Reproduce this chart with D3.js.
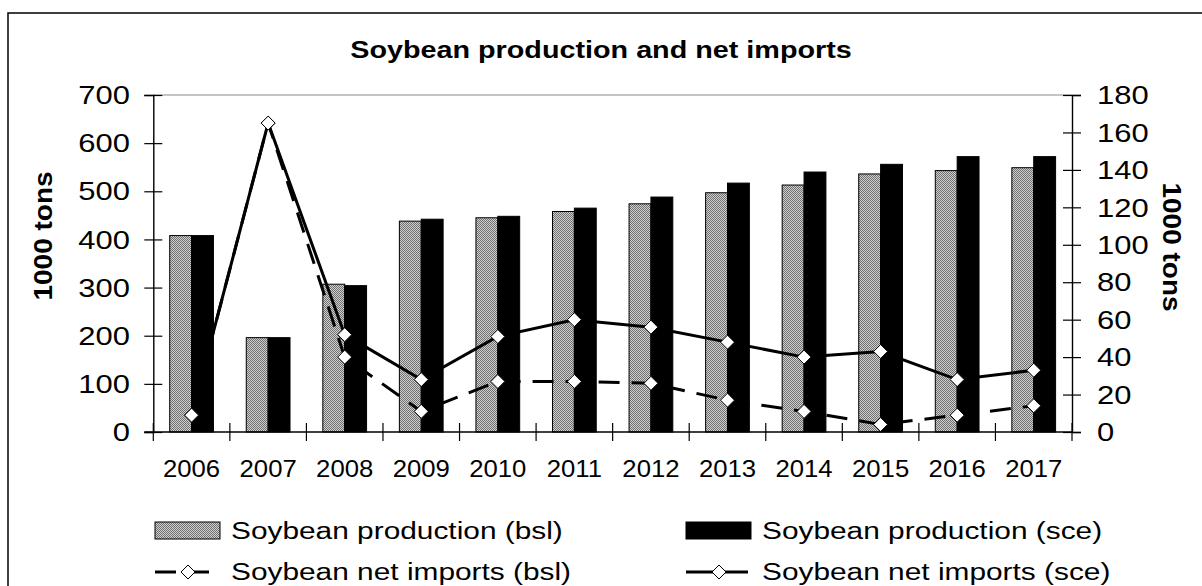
<!DOCTYPE html>
<html><head><meta charset="utf-8">
<script src="https://cdn.jsdelivr.net/npm/d3@7"></script>
<style>body{margin:0;background:#fff}svg{display:block}</style>
</head><body>
<svg id="c" width="1202" height="586"></svg>
<script>
const years = ["2006","2007","2008","2009","2010","2011","2012","2013","2014","2015","2016","2017"];
const prodBsl = [408,196,307,438,445,458,474,497,513,536,543,549];
const prodSce = [408,196,304,442,448,465,488,517,540,556,572,572];
const importsBsl = [9,165,40,11,27,27,26,17,11,4,9,14];
const importsSce = [9,165,52,28,51,60,56,48,40,43,28,33];
const leftTicks = [0,100,200,300,400,500,600,700];
const rightTicks = [0,20,40,60,80,100,120,140,160,180];
const title = "Soybean production and net imports";
const yTitle = "1000 tons";
const legendLabels = ["Soybean production (bsl)","Soybean production (sce)","Soybean net imports (bsl)","Soybean net imports (sce)"];

const svg = d3.select("#c");
const FONT = "'Liberation Sans', Arial, sans-serif";
const L = 153.3, R = 1072, T = 95, B = 432;

function stretch(sel, factor){
  sel.each(function(){
    const n = this.getComputedTextLength();
    d3.select(this).attr("textLength", n*factor).attr("lengthAdjust","spacingAndGlyphs");
  });
}

// pattern
const defs = svg.append("defs");
const pat = defs.append("pattern").attr("id","dots").attr("patternUnits","userSpaceOnUse")
  .attr("width",2).attr("height",2);
pat.append("rect").attr("width",2).attr("height",2).attr("fill","#cfcfcf");
pat.append("rect").attr("width",1).attr("height",1).attr("fill","#707070");
pat.append("rect").attr("x",1).attr("y",1).attr("width",1).attr("height",1).attr("fill","#707070");

// outer border
svg.append("rect").attr("x",8).attr("y",13).attr("width",1300).attr("height",700)
  .attr("fill","none").attr("stroke","#000").attr("stroke-width",1.5);

const x = d3.scaleBand().domain(years).range([L,R]).paddingInner(0).paddingOuter(0);
const bw = x.bandwidth()/3.5;
const yL = d3.scaleLinear().domain([0,700]).range([B,T]);
const yR = d3.scaleLinear().domain([0,180]).range([B,T]);
const cx = d => x(d) + x.bandwidth()/2;

// plot top border
svg.append("line").attr("x1",L).attr("x2",R).attr("y1",T).attr("y2",T).attr("stroke","#8a8a8a").attr("stroke-width",1.2);

// bars
svg.append("g").selectAll("rect").data(years).join("rect")
  .attr("x", d=>cx(d)-bw).attr("width",bw)
  .attr("y",(d,i)=>yL(prodBsl[i])).attr("height",(d,i)=>B-yL(prodBsl[i]))
  .attr("fill","url(#dots)").attr("stroke","#000").attr("stroke-width",1);
svg.append("g").selectAll("rect").data(years).join("rect")
  .attr("x", d=>cx(d)).attr("width",bw)
  .attr("y",(d,i)=>yL(prodSce[i])).attr("height",(d,i)=>B-yL(prodSce[i]))
  .attr("fill","#000").attr("stroke","#000").attr("stroke-width",1);

// axes
const gL = svg.append("g").attr("transform",`translate(${L},0)`)
  .call(d3.axisLeft(yL).tickValues(leftTicks).tickSize(9).tickFormat(""));
gL.selectAll(".tick line").attr("x2",-9).attr("x1",9);
const gR = svg.append("g").attr("transform",`translate(${R},0)`)
  .call(d3.axisRight(yR).tickValues(rightTicks).tickSize(9).tickFormat(""));
gR.selectAll(".tick line").attr("x1",-9).attr("x2",9);
const gB = svg.append("g").attr("transform",`translate(0,${B})`)
  .call(d3.axisBottom(x).tickSize(0).tickFormat(""));
[gL,gR,gB].forEach(g=>{g.select(".domain").attr("stroke","#000").attr("stroke-width",1.4);
  g.selectAll(".tick line").attr("stroke","#000").attr("stroke-width",1.2);});
gB.select(".domain").attr("d",`M${L-9},0H${R}`);
// category boundary ticks
svg.append("g").selectAll("line").data(years.concat(["end"])).join("line")
  .attr("x1",(d,i)=>i<years.length? x(d) : R).attr("x2",(d,i)=>i<years.length? x(d) : R)
  .attr("y1",B-9).attr("y2",B+9).attr("stroke","#000").attr("stroke-width",1.2);

// tick labels
svg.append("g").selectAll("text").data(leftTicks).join("text")
  .attr("x",130).attr("y",d=>yL(d)+9.2).attr("text-anchor","end")
  .attr("font-family",FONT).attr("font-size",26).text(d=>d).call(stretch,1.19);
svg.append("g").selectAll("text").data(rightTicks).join("text")
  .attr("x",1097).attr("y",d=>yR(d)+9.2).attr("text-anchor","start")
  .attr("font-family",FONT).attr("font-size",26).text(d=>d).call(stretch,1.19);
svg.append("g").selectAll("text").data(years).join("text")
  .attr("x",d=>cx(d)).attr("y",477).attr("text-anchor","middle")
  .attr("font-family",FONT).attr("font-size",24).text(d=>d).call(stretch,1.07);

// axis titles
svg.append("text").attr("transform","translate(52,236) rotate(-90)").attr("text-anchor","middle")
  .attr("font-family",FONT).attr("font-weight","bold").attr("font-size",25).text(yTitle).call(stretch,1.12);
svg.append("text").attr("transform","translate(1163,247) rotate(90)").attr("text-anchor","middle")
  .attr("font-family",FONT).attr("font-weight","bold").attr("font-size",25).text(yTitle).call(stretch,1.12);

// chart title
svg.append("text").attr("x",601).attr("y",58).attr("text-anchor","middle")
  .attr("font-family",FONT).attr("font-weight","bold").attr("font-size",23).text(title).call(stretch,1.25);

// lines
const lineGen = vals => d3.line().x((d,i)=>cx(years[i])).y(d=>yR(d))(vals);
svg.append("path").attr("d",lineGen(importsBsl)).attr("fill","none").attr("stroke","#000")
  .attr("stroke-width",3).attr("stroke-dasharray","21,12");
svg.append("path").attr("d",lineGen(importsSce)).attr("fill","none").attr("stroke","#000")
  .attr("stroke-width",3);
const diamond = (px,py,s)=>`M${px},${py-s}L${px+s},${py}L${px},${py+s}L${px-s},${py}Z`;
[importsBsl, importsSce].forEach(vals=>{
  svg.append("g").selectAll("path").data(vals).join("path")
    .attr("d",(d,i)=>diamond(cx(years[i]),yR(d),7))
    .attr("fill","#fff").attr("stroke","#000").attr("stroke-width",1);
});

// legend
const colX = [155, 686];
const rowY = [539, 580];
const leg = svg.append("g");
// row 1 swatches
leg.append("rect").attr("x",colX[0]).attr("y",522).attr("width",65).attr("height",17)
  .attr("fill","url(#dots)").attr("stroke","#000").attr("stroke-width",1);
leg.append("rect").attr("x",colX[1]).attr("y",522).attr("width",65).attr("height",17)
  .attr("fill","#000").attr("stroke","#000").attr("stroke-width",1);
// row 2 line samples
[0,1].forEach(c=>{
  const x0 = colX[c], x1 = colX[c]+62, my = 572;
  leg.append("line").attr("x1",x0).attr("x2",x1).attr("y1",my).attr("y2",my)
    .attr("stroke","#000").attr("stroke-width",3)
    .attr("stroke-dasharray", c===0 ? "21,12" : null);
  leg.append("path").attr("d",diamond((x0+x1)/2+2,my,7)).attr("fill","#fff").attr("stroke","#000").attr("stroke-width",1);
});
legendLabels.forEach((t,i)=>{
  const c = i%2, r = Math.floor(i/2);
  leg.append("text").attr("x",colX[c]+76).attr("y",rowY[r])
    .attr("font-family",FONT).attr("font-size",23.5).text(t).call(stretch,1.27);
});
</script>
</body></html>
